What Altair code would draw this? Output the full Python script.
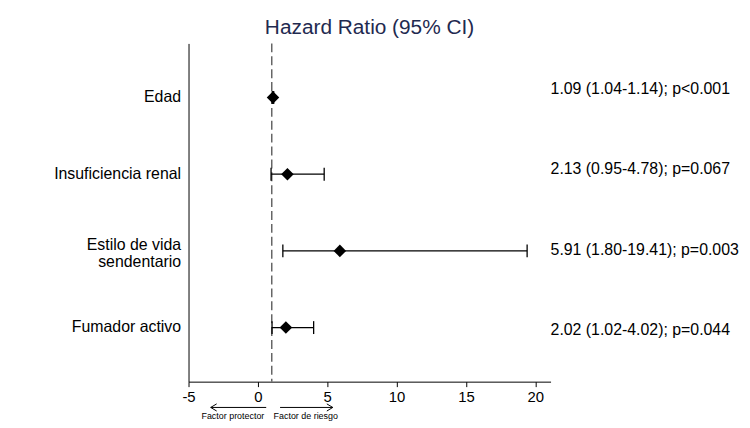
import altair as alt
import pandas as pd

# ---- data ----
factors = ["Edad", "Insuficiencia renal", "Estilo de vida|sendentario", "Fumador activo"]
hr = [1.09, 2.13, 5.91, 2.02]
ci_low = [1.04, 0.95, 1.80, 1.02]
ci_high = [1.14, 4.78, 19.41, 4.02]
p_values = ["p<0.001", "p=0.067", "p=0.003", "p=0.044"]
x_ticks = [-5, 0, 5, 10, 15, 20]
x_domain = [-5, 21.1]
reference_value = [1]
arrow_texts = ["Factor protector", "Factor de riesgo"]
arrow_start = [0.6, 1.6]
arrow_end = [-3.4, 5.4]
arrow_text_x = [-1.8, 3.45]
arrow_heads = ["M2,-1.2L0,0L2,1.2", "M-2,-1.2L0,0L-2,1.2"]

labels = [f"{h:.2f} ({l:.2f}-{u:.2f}); {p}" for h, l, u, p in zip(hr, ci_low, ci_high, p_values)]

df = pd.DataFrame({"factor": factors, "hr": hr, "lo": ci_low, "hi": ci_high, "label": labels})
arrows = pd.DataFrame({"text": arrow_texts, "start": arrow_start, "end": arrow_end,
                       "tx": arrow_text_x, "head": arrow_heads})
ref_df = pd.DataFrame({"x": reference_value})

W, H = 365, 341
FONT = "Liberation Sans"

x_scale = alt.Scale(domain=x_domain, nice=False, zero=False)
x_axis = alt.Axis(title=None, values=x_ticks, tickSize=5, tickColor="black", domainColor="black",
                  labelFontSize=15, labelFont=FONT, labelColor="black", labelPadding=3, grid=False,
                  labelFlush=False, labelExpr="toString(datum.value)")
y_scale = alt.Scale(type="point", padding=0.705)
y_axis = alt.Axis(title=None, ticks=False, tickSize=0, labelExpr="split(datum.label, '|')",
                  labelFontSize=16, labelFont=FONT, labelColor="black", labelPadding=8,
                  labelLineHeight=17, domainColor="black", grid=False, labelLimit=300,
                  labelOffset={"condition": {"test": "indexof(datum.value, '|') >= 0", "value": -6},
                               "value": -1})

X = lambda f: alt.X(f, scale=x_scale, axis=x_axis)
Y = lambda: alt.Y("factor:N", sort=factors, scale=y_scale, axis=y_axis)

base = alt.Chart(df)

errbar = base.mark_rule(color="black", strokeWidth=1.3).encode(
    x=X("lo:Q"), x2="hi:Q", y=Y(),
)

caps = base.transform_fold(["lo", "hi"], as_=["end", "val"]).mark_tick(
    size=13, thickness=1.3, color="black", opacity=1
).encode(x=X("val:Q"), y=Y())

ref = alt.Chart(ref_df).mark_rule(strokeDash=[9, 4], color="#666666", strokeWidth=1.5).encode(
    x=X("x:Q")
)

diamonds = base.mark_point(shape="diamond", filled=True, size=160, color="black", opacity=1).encode(
    x=X("hr:Q"), y=Y(),
)

arrow_lines = alt.Chart(arrows).mark_rule(color="black", strokeWidth=1).encode(
    x=X("start:Q"), x2="end:Q", y=alt.value(H + 26),
)
arrow_tips = alt.Chart(arrows).mark_point(filled=False, size=36, color="black", strokeWidth=1,
                                           opacity=1).encode(
    x=X("end:Q"), y=alt.value(H + 26), shape=alt.Shape("head:N", scale=None),
)
arrow_labels = alt.Chart(arrows).mark_text(fontSize=9, font=FONT, color="black", baseline="middle").encode(
    x=X("tx:Q"), y=alt.value(H + 35), text="text:N",
)

main = alt.layer(ref, errbar, caps, diamonds, arrow_lines, arrow_tips, arrow_labels)

annotations = base.mark_text(align="left", baseline="middle", fontSize=16, font=FONT,
                             color="black", dy=-3).encode(
    x=alt.value(W),
    y=alt.Y("factor:N", sort=factors, scale=alt.Scale(type="point", padding=0.6), axis=None),
    text="label:N",
)

chart = alt.layer(main, annotations).resolve_scale(y="independent").properties(
    width=W,
    height=H,
    title=alt.TitleParams("Hazard Ratio (95% CI)", fontSize=21, font=FONT, fontWeight="normal",
                          color="#1f2a50", anchor="middle", frame="group", baseline="bottom",
                          offset=5, dy=21),
    autosize=alt.AutoSizeParams(type="none"),
    padding={"left": 182, "top": 34, "right": 193, "bottom": 44},
).configure_view(stroke=None)

chart.save("out.html", embed_options={"renderer": "svg", "actions": False})
